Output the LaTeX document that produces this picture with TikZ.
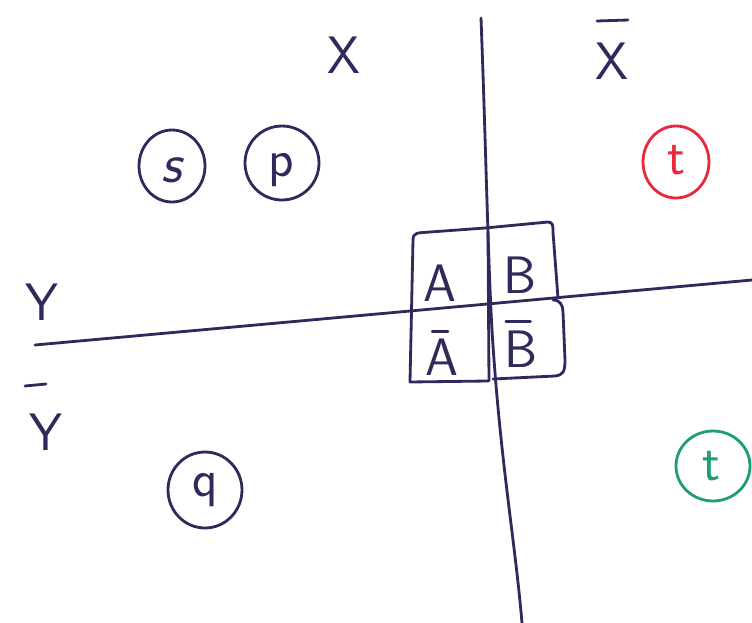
\documentclass[tikz,border=0pt]{standalone}
\usepackage{fontspec}
\setmainfont{DejaVu Sans}
\definecolor{ink}{HTML}{2E2A5C}
\definecolor{redink}{HTML}{E8283C}
\definecolor{greenink}{HTML}{1E9E78}
\begin{document}
\begin{tikzpicture}[x=0.02cm,y=-0.02cm,
  pen/.style={draw=ink,line width=1.6pt,line cap=round,line join=round},
  lbl/.style={text=ink,font=\fontsize{30}{34}\selectfont\sffamily,inner sep=0pt},
  big/.style={text=ink,font=\fontsize{30}{34}\selectfont\sffamily,inner sep=0pt}]
\fill[white] (0,0) rectangle (752,623);
\useasboundingbox (0,0) rectangle (752,623);
% axes
\draw[pen] (481,18) .. controls (486,150) and (488,260) .. (492,330) .. controls (500,460) and (515,540) .. (522,623);
\draw[pen] (35,345) -- (752,280);
% box
\draw[pen] (413,240) .. controls (413,232) and (418,233) .. (430,232) -- (485,228) -- (548,222) .. controls (553,222) and (553,226) .. (553,232) -- (558,298);
\draw[pen] (553,300) .. controls (560,300) and (563,305) .. (563,312) -- (565,360) .. controls (565,372) and (563,375) .. (555,376) -- (493,379);
\draw[pen] (413,240) -- (410,382) -- (488,381);
\draw[pen] (488,232) -- (489,381);
% box labels
\node[big] (A) at (440,283) {A};
\node[big] (B) at (520,275) {B};
\node[big] (Ab) at (442,357) {A};
\node[big] (Bb) at (521,349) {B};
\draw[pen] ([yshift=4pt]Ab.north west) ++(4pt,0) -- ++(9pt,0);
\draw[pen] ([yshift=5pt]Bb.north west) ++(1pt,0) -- ++(14pt,0);
% axis labels
\node[big] (X) at (344,55) {X};
\node[big] (Xb) at (612,61) {X};
\draw[pen] (597,21) -- (628,20);
\node[big] (Y) at (42,302) {Y};
\node[big] (Yb) at (46,432) {Y};
\draw[pen] (25,386) -- (46,384);
% circled letters
\node[lbl,font=\fontsize{32}{36}\selectfont\itshape\sffamily] (s) at (172,170) {s};
\draw[pen] (172,166) ellipse (33 and 36);
\node[lbl] (p) at (281,170) {p};
\draw[pen] (282,163) ellipse (37 and 37);
\node[lbl,text=redink] (t1) at (676,160) {t};
\draw[pen,draw=redink] (676,162) ellipse (33 and 36);
\node[lbl] (q) at (205,490) {q};
\draw[pen] (205,490) ellipse (37 and 38);
\node[lbl,text=greenink] (t2) at (711,466) {t};
\draw[pen,draw=greenink] (713,466) ellipse (37 and 35);
\end{tikzpicture}
\end{document}
